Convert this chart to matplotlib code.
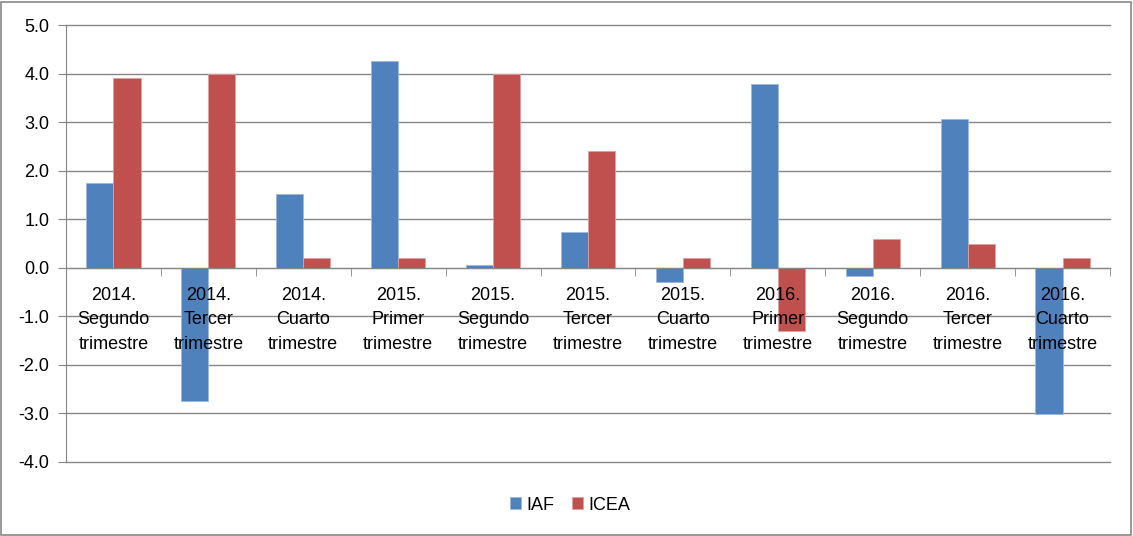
import matplotlib
matplotlib.use("Agg")
import matplotlib.pyplot as plt
import numpy as np
from matplotlib.patches import Rectangle

categories = ["2014.\nSegundo\ntrimestre", "2014.\nTercer\ntrimestre", "2014.\nCuarto\ntrimestre",
              "2015.\nPrimer\ntrimestre", "2015.\nSegundo\ntrimestre", "2015.\nTercer\ntrimestre",
              "2015.\nCuarto\ntrimestre", "2016.\nPrimer\ntrimestre", "2016.\nSegundo\ntrimestre",
              "2016.\nTercer\ntrimestre", "2016.\nCuarto\ntrimestre"]
iaf = [1.75, -2.75, 1.52, 4.25, 0.05, 0.73, -0.30, 3.78, -0.16, 3.06, -3.02]
icea = [3.9, 4.0, 0.2, 0.2, 4.0, 2.4, 0.2, -1.3, 0.6, 0.5, 0.2]
yticks = [-4.0, -3.0, -2.0, -1.0, 0.0, 1.0, 2.0, 3.0, 4.0, 5.0]

plt.rcParams['font.family'] = ['Liberation Sans', 'DejaVu Sans']

fig = plt.figure(figsize=(11.33, 5.36), dpi=100)
ax = fig.add_axes([66/1133, 1-462/536, (1110-66)/1133, (462-25)/536])

blue = '#4F81BD'
red = '#C0504D'
grid_c = '#878787'
x = np.arange(len(categories))
w = 0.2857
ax.bar(x - w/2, iaf, w, color=blue, edgecolor='#9DB9DD', linewidth=0.6, label='IAF', zorder=2)
ax.bar(x + w/2, icea, w, color=red, edgecolor='#E0A09E', linewidth=0.6, label='ICEA', zorder=2)

ax.set_xlim(-0.5, len(categories) - 0.5)
ax.set_ylim(-4, 5)
ax.set_yticks(yticks)
ax.set_yticklabels([f"{v:.1f}" for v in yticks])
for v in yticks:
    ax.axhline(v, color=grid_c, linewidth=1.0, zorder=1, clip_on=False)
ax.set_axisbelow(False)

for s in ['top', 'right']:
    ax.spines[s].set_visible(False)
ax.spines['left'].set_color(grid_c)
ax.spines['bottom'].set_position(('data', 0))
ax.spines['bottom'].set_color(grid_c)

ax.set_xticks(x)
ax.set_xticklabels(categories, fontsize=13, linespacing=1.55)
ax.set_xticks(np.arange(len(categories) + 1) - 0.5, minor=True)
ax.tick_params(axis='x', which='major', length=0, pad=14)
ax.tick_params(axis='x', which='minor', length=6, color=grid_c, direction='out')
ax.tick_params(axis='y', length=6, color=grid_c, labelsize=13, pad=6)

ax.legend(loc='center', bbox_to_anchor=(570/1133, 1-505/536), bbox_transform=fig.transFigure,
          ncol=2, frameon=False, fontsize=13, handlelength=0.6, handleheight=0.6,
          handletextpad=0.3, columnspacing=1.0)

fig.patches.append(Rectangle((1/1133, 1/536), 1 - 3/1133, 1 - 3/536, transform=fig.transFigure,
                             fill=False, edgecolor=grid_c, linewidth=1.2))

fig.savefig('out.png', dpi=100)
